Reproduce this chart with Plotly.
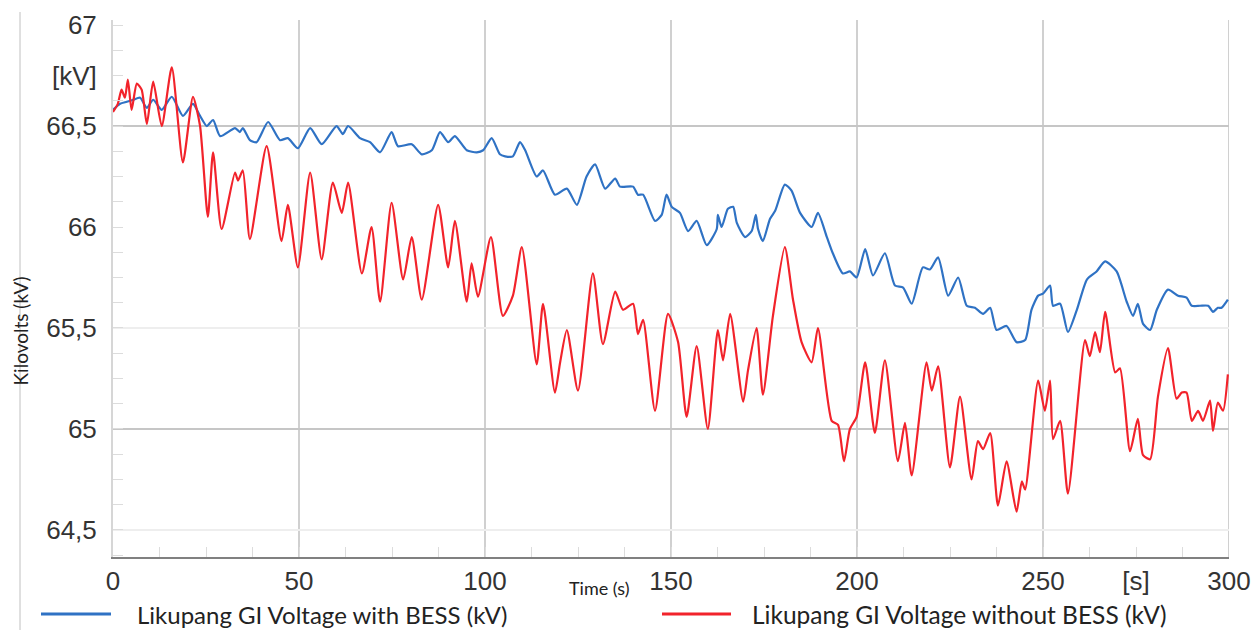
import plotly.graph_objects as go

# ---------------- data ----------------
t_with = [0.0, 1.9, 3.7, 5.4, 7.3, 9.1, 10.8, 13.1, 15.8, 18.8, 21.5, 23.4, 25.2, 26.9, 28.8,
          32.8, 34.1, 34.9, 36.8, 38.6, 41.7, 44.9, 47.0, 49.7, 53.0, 56.1, 60.1, 61.8, 63.2,
          66.4, 69.1, 71.8, 74.9, 76.6, 80.3, 83.0, 85.7, 87.9, 90.1, 91.9, 95.1, 97.8, 99.5,
          101.8, 104.0, 105.4, 107.5, 109.4, 110.8, 113.9, 115.6, 118.8, 122.0, 124.7, 127.3,
          129.6, 132.3, 135.0, 136.3, 139.8, 141.1, 142.5, 145.7, 147.5, 148.8, 150.2, 152.4,
          154.6, 156.9, 159.6, 162.3, 162.6, 163.6, 165.3, 166.7, 167.7, 169.9, 171.7, 172.8,
          173.4, 174.7, 176.6, 178.0, 180.6, 182.4, 184.7, 187.8, 189.5, 191.9, 193.5, 196.2,
          198.1, 199.9, 202.2, 204.3, 207.5, 210.2, 212.4, 214.7, 217.7, 219.6, 221.8, 224.5,
          227.2, 229.5, 231.7, 233.9, 235.8, 237.5, 240.2, 242.9, 245.2, 246.9, 248.7, 250.0,
          251.9, 252.7, 254.6, 256.7, 259.1, 261.8, 264.4, 266.7, 269.8, 272.5, 274.2, 275.5,
          276.9, 278.8, 280.6, 283.6, 286.3, 288.6, 290.0, 292.2, 294.4, 295.7, 297.0, 298.0,
          299.7]
v_with = [66.58, 66.61, 66.62, 66.63, 66.64, 66.59, 66.63, 66.58, 66.645, 66.55, 66.61, 66.55,
          66.50, 66.53, 66.45, 66.49, 66.47, 66.49, 66.43, 66.42, 66.52, 66.43, 66.44, 66.39,
          66.49, 66.41, 66.50, 66.46, 66.50, 66.44, 66.42, 66.37, 66.47, 66.40, 66.41, 66.36,
          66.38, 66.47, 66.42, 66.45, 66.38, 66.37, 66.38, 66.44, 66.36, 66.35, 66.35, 66.42,
          66.38, 66.25, 66.28, 66.16, 66.19, 66.11, 66.25, 66.31, 66.19, 66.24, 66.20, 66.20,
          66.16, 66.16, 66.03, 66.06, 66.16, 66.10, 66.07, 65.98, 66.03, 65.91, 65.99, 66.06,
          66.00, 66.09, 66.10, 66.02, 65.95, 65.98, 66.06, 65.99, 65.93, 66.04, 66.08, 66.21,
          66.18, 66.07, 66.00, 66.07, 65.95, 65.87, 65.77, 65.78, 65.75, 65.89, 65.76, 65.87,
          65.71, 65.70, 65.62, 65.80, 65.79, 65.85, 65.66, 65.75, 65.61, 65.60, 65.57, 65.60,
          65.49, 65.51, 65.43, 65.44, 65.59, 65.66, 65.67, 65.71, 65.61, 65.62, 65.48, 65.59,
          65.74, 65.78, 65.83, 65.78, 65.63, 65.56, 65.62, 65.52, 65.49, 65.59, 65.69, 65.66,
          65.65, 65.61, 65.61, 65.61, 65.58, 65.60, 65.60, 65.64]

t_without = [0.0, 1.3, 2.3, 3.2, 4.0, 5.0, 6.4, 7.7, 9.1, 10.8, 13.1, 15.8, 18.8, 21.5, 23.4,
             25.5, 26.9, 29.2, 32.8, 33.6, 34.9, 36.8, 41.3, 45.3, 47.0, 49.7, 53.0, 56.1,
             59.1, 61.5, 63.2, 66.9, 69.5, 71.8, 74.9, 78.0, 80.3, 83.0, 87.4, 90.1, 91.9,
             95.1, 96.4, 98.1, 101.6, 104.8, 107.5, 109.9, 113.9, 115.6, 118.8, 120.2, 122.0,
             125.0, 129.0, 131.7, 135.0, 137.1, 139.8, 141.1, 142.5, 145.7, 149.2, 151.9,
             154.2, 156.9, 159.9, 162.6, 164.0, 165.9, 169.4, 170.7, 173.0, 174.7, 177.4,
             180.6, 182.8, 185.1, 187.8, 189.5, 193.2, 194.9, 196.5, 198.1, 199.9, 202.2,
             204.8, 207.5, 211.0, 212.9, 214.7, 218.7, 220.1, 221.8, 225.0, 227.7, 230.8,
             232.5, 233.9, 235.8, 237.9, 240.2, 242.9, 244.3, 245.2, 248.7, 250.5, 251.9,
             252.7, 254.6, 256.7, 261.3, 262.6, 264.0, 265.3, 266.7, 269.4, 270.7, 273.4,
             275.5, 276.9, 278.8, 280.9, 283.6, 285.9, 287.3, 288.6, 290.0, 291.7, 293.0,
             294.9, 295.7, 297.0, 298.4, 299.7]
v_without = [66.57, 66.61, 66.68, 66.64, 66.73, 66.58, 66.71, 66.68, 66.51, 66.72, 66.50,
             66.79, 66.32, 66.645, 66.50, 66.05, 66.37, 65.99, 66.27, 66.23, 66.28, 65.94,
             66.40, 65.93, 66.11, 65.80, 66.27, 65.84, 66.22, 66.07, 66.22, 65.77, 66.00,
             65.63, 66.12, 65.74, 65.95, 65.64, 66.11, 65.80, 66.03, 65.63, 65.82, 65.655,
             65.95, 65.56, 65.66, 65.90, 65.32, 65.62, 65.18, 65.33, 65.49, 65.19, 65.77,
             65.42, 65.68, 65.59, 65.62, 65.47, 65.54, 65.09, 65.57, 65.43, 65.06, 65.41,
             65.00, 65.49, 65.34, 65.57, 65.135, 65.29, 65.50, 65.17, 65.56, 65.90, 65.64,
             65.43, 65.33, 65.50, 65.04, 65.02, 64.84, 65.00, 65.06, 65.33, 64.98, 65.34,
             64.84, 65.03, 64.77, 65.33, 65.19, 65.31, 64.81, 65.16, 64.75, 64.94, 64.90,
             64.98, 64.62, 64.84, 64.59, 64.74, 64.70, 65.24, 65.09, 65.24, 64.95, 65.04,
             64.68, 65.44, 65.36, 65.48, 65.38, 65.58, 65.28, 65.30, 64.89, 65.05, 64.87,
             64.85, 65.16, 65.40, 65.15, 65.18, 65.18, 65.04, 65.09, 65.04, 65.14, 64.99,
             65.13, 65.09, 65.27]

x_tickvals = [0, 50, 100, 150, 200, 250, 275, 300]
x_ticktext = ["0", "50", "100", "150", "200", "250", "[s]", "300"]
y_tickvals = [64.5, 65, 65.5, 66, 66.5, 66.75, 67]
y_ticktext = ["64,5", "65", "65,5", "66", "66,5", "[kV]", "67"]
x_grid = [50, 100, 150, 200, 250, 300]
y_grid_strong = [66.5, 65]
y_grid_faint = [65.5, 64.5]

name_with = "Likupang GI Voltage with BESS (kV)"
name_without = "Likupang GI Voltage without BESS (kV)"

BLUE = "#2F72C4"
RED = "#F2232B"

# ---------------- figure ----------------
W, H = 1258, 630
ML, MT = 113, 20
MR = W - 1229
MB = H - 557
PW, PH = W - ML - MR, H - MT - MB


def px2paper_x(px):  # window pixel -> paper
    return (px - ML) / PW


def py2paper_y(py):
    return (H - MB - py) / PH


fig = go.Figure()
fig.add_trace(go.Scatter(x=t_with, y=v_with, mode="lines", name=name_with,
                         line=dict(color=BLUE, width=2.2, shape="spline", smoothing=0.6),
                         showlegend=False))
fig.add_trace(go.Scatter(x=t_without, y=v_without, mode="lines", name=name_without,
                         line=dict(color=RED, width=2.2, shape="spline", smoothing=0.6),
                         showlegend=False))

shapes = []
for gx in x_grid:
    shapes.append(dict(type="line", xref="x", yref="paper", x0=gx, x1=gx, y0=0, y1=1,
                       line=dict(color="#d0d0d0", width=2), layer="below"))
for gy in y_grid_strong:
    shapes.append(dict(type="line", xref="paper", yref="y", x0=0, x1=1, y0=gy, y1=gy,
                       line=dict(color="#c6c6c6", width=2), layer="below"))
for gy in y_grid_faint:
    shapes.append(dict(type="line", xref="paper", yref="y", x0=0, x1=1, y0=gy, y1=gy,
                       line=dict(color="#eeeeee", width=2), layer="below"))
# thin vertical line behind the y-axis title
shapes.append(dict(type="line", xref="paper", yref="paper",
                   x0=px2paper_x(20), x1=px2paper_x(20), y0=py2paper_y(12), y1=py2paper_y(630),
                   line=dict(color="#c0c0c0", width=1)))
# legend samples
leg_y = py2paper_y(614)
shapes.append(dict(type="line", xref="paper", yref="paper",
                   x0=px2paper_x(41), x1=px2paper_x(111), y0=leg_y, y1=leg_y,
                   line=dict(color=BLUE, width=3)))
shapes.append(dict(type="line", xref="paper", yref="paper",
                   x0=px2paper_x(662), x1=px2paper_x(731), y0=leg_y, y1=leg_y,
                   line=dict(color=RED, width=3)))

annotations = [
    dict(text="Kilovolts (kV)", xref="paper", yref="paper", x=px2paper_x(19.5), y=py2paper_y(331),
         textangle=-90, showarrow=False, xanchor="center", yanchor="middle",
         font=dict(family="Lato, Open Sans, sans-serif", size=19, color="#222222")),
    dict(text="Time (s)", xref="paper", yref="paper", x=px2paper_x(599), y=py2paper_y(588),
         showarrow=False, xanchor="center", yanchor="middle",
         font=dict(family="Lato, Open Sans, sans-serif", size=18, color="#222222")),
    dict(text=name_with, xref="paper", yref="paper", x=px2paper_x(135), y=leg_y,
         showarrow=False, xanchor="left", yanchor="middle",
         font=dict(family="Lato, Open Sans, sans-serif", size=24, color="#222222")),
    dict(text=name_without, xref="paper", yref="paper", x=px2paper_x(750), y=leg_y,
         showarrow=False, xanchor="left", yanchor="middle",
         font=dict(family="Lato, Open Sans, sans-serif", size=24.5, color="#222222")),
]

tickfont = dict(family="Liberation Sans, Arial, sans-serif", size=26, color="#333333")

fig.update_layout(
    width=W, height=H,
    margin=dict(l=ML, r=MR, t=MT, b=MB, pad=0, autoexpand=False),
    paper_bgcolor="white", plot_bgcolor="white",
    shapes=shapes, annotations=annotations,
    showlegend=False,
    xaxis=dict(range=[0, 300], tickmode="array", tickvals=x_tickvals, ticktext=x_ticktext,
               automargin=False,
               showgrid=False, zeroline=False, showline=True, linecolor="#808080", linewidth=2,
               ticks="inside", ticklen=10, tickcolor="#dcdcdc", tickwidth=1,
               minor=dict(ticks="inside", ticklen=10, tickcolor="#dcdcdc", tickwidth=1,
                          dtick=12.5, tick0=0, showgrid=False),
               tickfont=tickfont, ticklabelstandoff=0),
    yaxis=dict(range=[64.366, 67.025], tickmode="array", tickvals=y_tickvals, ticktext=y_ticktext,
               automargin=False,
               showgrid=False, zeroline=False, showline=True, linecolor="#d6d6d6", linewidth=2,
               ticks="inside", ticklen=10, tickcolor="#dcdcdc", tickwidth=1,
               minor=dict(ticks="inside", ticklen=10, tickcolor="#dcdcdc", tickwidth=1,
                          dtick=0.125, tick0=64.5, showgrid=False),
               tickfont=tickfont, ticklabelstandoff=9),
)

# remove the default 8 px body margin so the figure fills the window exactly
fig.write_html("out.html", config={"displayModeBar": False},
               post_script="document.body.style.margin='0';document.body.style.overflow='hidden';")
